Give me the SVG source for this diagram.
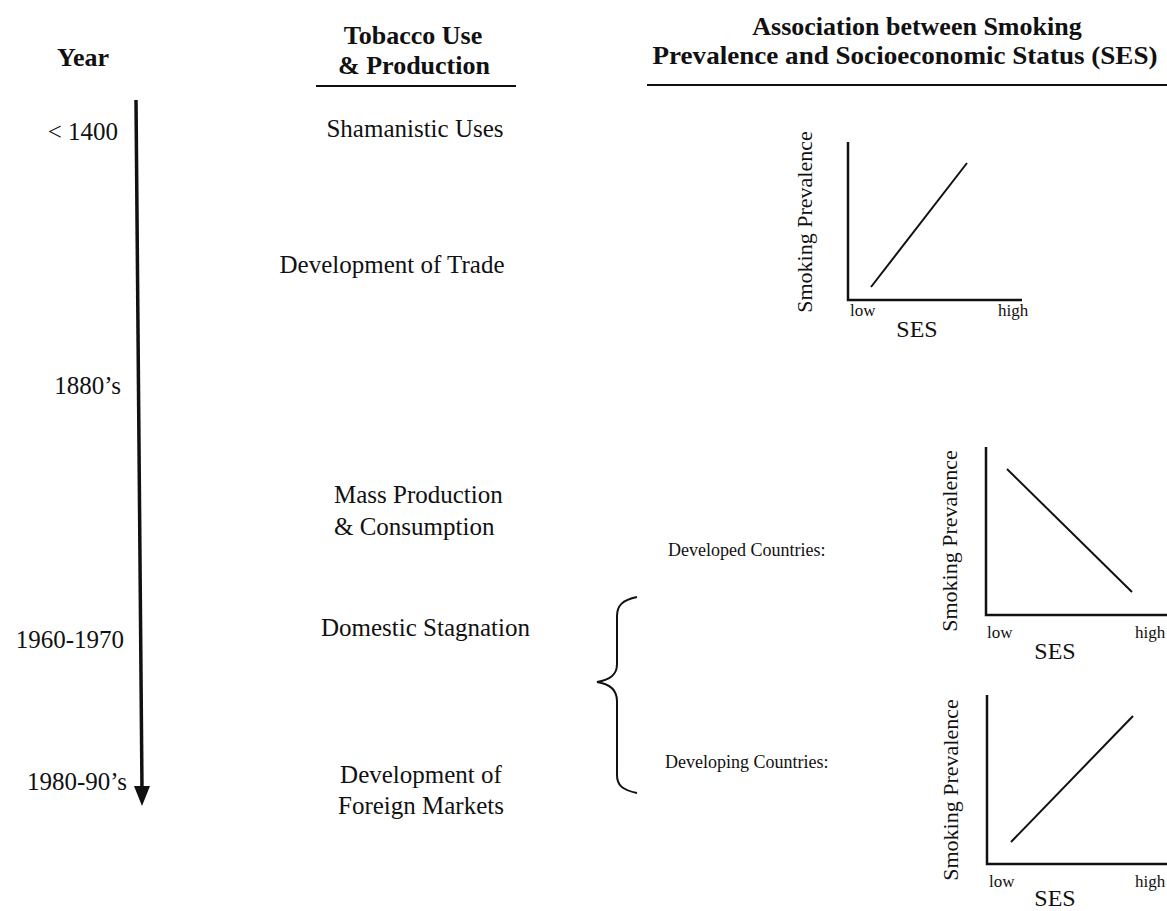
<svg xmlns="http://www.w3.org/2000/svg" width="1167" height="911" viewBox="0 0 1167 911">
<style>
text{font-family:"Liberation Serif","Times New Roman",serif;fill:#111}
.h{font-weight:bold;font-size:26px}
.b{font-size:25px}
.y{font-size:25px;text-anchor:end}
.c{text-anchor:middle}
.s{font-size:18px}
.ax{font-size:22px}
.lh{font-size:17px}
.ses{font-size:24px;text-anchor:middle}
.ln{stroke:#111;fill:none;stroke-width:2}
.axis{stroke:#111;fill:none;stroke-width:2.5}
</style>
<rect width="1167" height="911" fill="#fff"/>
<g id="headers">
<text class="h c" x="83" y="66">Year</text>
<text class="h c" x="413" y="44">Tobacco Use</text>
<text class="h c" x="414" y="74">&amp; Production</text>
<line class="ln" x1="316" y1="86" x2="516" y2="86"/>
<text class="h c" x="917" y="35">Association between Smoking</text>
<text class="h c" x="905" y="64" textLength="505" lengthAdjust="spacingAndGlyphs">Prevalence and Socioeconomic Status (SES)</text>
<line class="ln" x1="647" y1="85" x2="1167" y2="85"/>
</g>
<g id="connectors">
<line x1="136" y1="100" x2="142" y2="790" stroke="#111" stroke-width="3.5"/>
<polygon points="134,786 150,786 142,806" fill="#111"/>
<path class="ln" d="M637,597 C622,600 617,606 617,616 L617,664 C617,675 610,680 597,682 C610,684 617,690 617,701 L617,775 C617,785 622,790 637,793"/>
</g>
<g id="years">
<text class="y" x="118" y="140">&lt; 1400</text>
<text class="y" x="121" y="394">1880’s</text>
<text class="y" x="124" y="648">1960-1970</text>
<text class="y" x="127" y="790">1980-90’s</text>
</g>
<g id="node-shamanistic"><text class="b c" x="415" y="137">Shamanistic Uses</text></g>
<g id="node-trade"><text class="b c" x="392" y="273">Development of Trade</text></g>
<g id="node-mass">
<text class="b" x="334" y="503">Mass Production</text>
<text class="b" x="334" y="535">&amp; Consumption</text>
</g>
<g id="node-stagnation"><text class="b" x="321" y="636">Domestic Stagnation</text></g>
<g id="node-foreign">
<text class="b c" x="421" y="783">Development of</text>
<text class="b c" x="421" y="814">Foreign Markets</text>
</g>
<g id="label-developed"><text class="s" x="668" y="556">Developed Countries:</text></g>
<g id="label-developing"><text class="s" x="665" y="768">Developing Countries:</text></g>
<g id="graph1">
<path class="axis" d="M848,142 L848,300 L1022,300"/>
<line class="ln" x1="871" y1="287" x2="967" y2="163"/>
<text class="ax c" transform="translate(812,222) rotate(-90)">Smoking Prevalence</text>
<text class="lh" x="850" y="316">low</text>
<text class="lh" x="998" y="316">high</text>
<text class="ses" x="917" y="337">SES</text>
</g>
<g id="graph2">
<path class="axis" d="M986,447 L986,615 L1167,615"/>
<line class="ln" x1="1007" y1="469" x2="1132" y2="592"/>
<text class="ax c" transform="translate(957,541) rotate(-90)">Smoking Prevalence</text>
<text class="lh" x="987" y="638">low</text>
<text class="lh" x="1135" y="638">high</text>
<text class="ses" x="1055" y="659">SES</text>
</g>
<g id="graph3">
<path class="axis" d="M987,695 L987,864 L1167,864"/>
<line class="ln" x1="1011" y1="842" x2="1133" y2="716"/>
<text class="ax c" transform="translate(958,790) rotate(-90)">Smoking Prevalence</text>
<text class="lh" x="989" y="887">low</text>
<text class="lh" x="1135" y="887">high</text>
<text class="ses" x="1055" y="906">SES</text>
</g>
</svg>
